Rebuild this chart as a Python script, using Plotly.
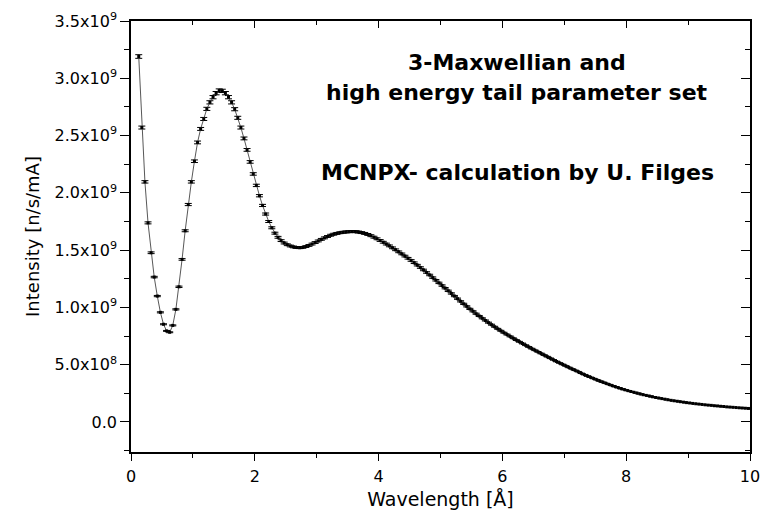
import numpy as np
import plotly.graph_objects as go

# Wavelength bin centres [Å]
wavelength = np.round(np.arange(0.125, 10.0, 0.05), 3)

# Intensity in units of 1e9 n/s/mA
intensity_e9 = [
    3.19, 2.57, 2.096, 1.738, 1.477, 1.265, 1.099, 0.957, 0.853, 0.795,
    0.783, 0.843, 0.983, 1.18, 1.419, 1.669, 1.898, 2.096, 2.276, 2.44,
    2.558, 2.645, 2.733, 2.79, 2.835, 2.87, 2.893, 2.89, 2.87, 2.835,
    2.79, 2.73, 2.655, 2.57, 2.475, 2.375, 2.27, 2.165, 2.065, 1.975,
    1.89, 1.815, 1.75, 1.695, 1.648, 1.612, 1.583, 1.562, 1.547, 1.536,
    1.528, 1.523, 1.521, 1.524, 1.531, 1.541, 1.553, 1.566, 1.580, 1.594,
    1.607, 1.619, 1.630, 1.639, 1.646, 1.652, 1.656, 1.659, 1.661, 1.662,
    1.661, 1.658, 1.653, 1.646, 1.637, 1.626, 1.613, 1.599,
    1.584, 1.569, 1.553, 1.537, 1.520, 1.503, 1.485, 1.467, 1.448, 1.429,
    1.410, 1.390, 1.369, 1.348, 1.327, 1.305, 1.283, 1.260, 1.237, 1.214,
    1.191, 1.168, 1.145, 1.122, 1.099, 1.076, 1.053, 1.031, 1.009, 0.987,
    0.966, 0.945, 0.925, 0.905, 0.886, 0.867, 0.849, 0.831, 0.813, 0.796,
    0.779, 0.763, 0.747, 0.731, 0.715, 0.700, 0.685, 0.670, 0.655, 0.640,
    0.626, 0.612, 0.598, 0.584, 0.570, 0.556, 0.542, 0.528, 0.515, 0.502,
    0.489, 0.476, 0.463, 0.451, 0.439, 0.425, 0.413, 0.401, 0.390, 0.379,
    0.368, 0.357, 0.347, 0.337, 0.327, 0.317, 0.308, 0.299, 0.290, 0.282,
    0.274, 0.266, 0.259, 0.252, 0.245, 0.238, 0.232, 0.226, 0.220, 0.214,
    0.209, 0.204, 0.199, 0.194, 0.189, 0.185, 0.181, 0.177, 0.173, 0.169,
    0.166, 0.162, 0.159, 0.156, 0.153, 0.150, 0.147, 0.145, 0.142, 0.140,
    0.137, 0.135, 0.132, 0.130, 0.128, 0.126, 0.124, 0.122, 0.120, 0.118,
]
intensity = np.array(intensity_e9) * 1e9
wavelength = wavelength[:len(intensity)]

# Axis tick labels
y_tick_values = [0.0, 0.5e9, 1.0e9, 1.5e9, 2.0e9, 2.5e9, 3.0e9, 3.5e9]
y_tick_labels = ["0.0", "5.0x10<sup>8</sup>", "1.0x10<sup>9</sup>", "1.5x10<sup>9</sup>",
                 "2.0x10<sup>9</sup>", "2.5x10<sup>9</sup>", "3.0x10<sup>9</sup>",
                 "3.5x10<sup>9</sup>"]
x_tick_values = [0, 2, 4, 6, 8, 10]

title_lines = ["3-Maxwellian and", "high energy tail parameter set",
               "MCNPX- calculation by U. Filges"]

X_RANGE = [0, 10]
Y_RANGE = [-0.262e9, 3.5e9]
FONT = "DejaVu Sans"

fig = go.Figure()
fig.add_trace(go.Scatter(
    x=wavelength, y=intensity, mode="lines+markers",
    line=dict(color="#444444", width=0.9),
    marker=dict(symbol="square", size=3, color="black"),
    error_y=dict(type="percent", value=0.5, color="black", thickness=1, width=3.5),
    showlegend=False, hoverinfo="x+y",
))
# empty trace to host the mirrored (top/right) axes
fig.add_trace(go.Scatter(x=[], y=[], xaxis="x2", yaxis="y2", showlegend=False))

axis_common = dict(showgrid=False, zeroline=False, linecolor="black", linewidth=1.6,
                   tickcolor="black", tickwidth=1.3, automargin=False,
                   tickfont=dict(family=FONT, size=16, color="black"))

fig.update_layout(
    width=762, height=520,
    margin=dict(l=131, r=12, t=21, b=68),
    paper_bgcolor="white", plot_bgcolor="white",
    font=dict(family=FONT, color="black"),
    xaxis=dict(range=X_RANGE, showline=True, ticks="outside", ticklen=7,
               tickvals=x_tick_values, ticktext=[str(v) for v in x_tick_values],
               ticklabelstandoff=2,
               minor=dict(ticks="outside", ticklen=4, dtick=1, tick0=0,
                          tickcolor="black", tickwidth=1.3),
               title=dict(text="Wavelength [Å]", font=dict(family=FONT, size=19),
                          standoff=8),
               **axis_common),
    yaxis=dict(range=Y_RANGE, showline=True, ticks="outside", ticklen=9,
               tickvals=y_tick_values, ticktext=y_tick_labels,
               minor=dict(ticks="outside", ticklen=5, dtick=0.25e9, tick0=0,
                          tickcolor="black", tickwidth=1.3),
               title=dict(text="Intensity [n/s/mA]", font=dict(family=FONT, size=18),
                          standoff=10),
               **axis_common),
    xaxis2=dict(range=X_RANGE, overlaying="x", side="top", anchor="y2",
                showline=True, ticks="inside", ticklen=7, dtick=2, tick0=0,
                showticklabels=False,
                minor=dict(ticks="inside", ticklen=4, dtick=1, tick0=0,
                           tickcolor="black", tickwidth=1.3),
                **axis_common),
    yaxis2=dict(range=Y_RANGE, overlaying="y", side="right", anchor="x2",
                showline=True, ticks="inside", ticklen=9, tickvals=y_tick_values,
                showticklabels=False,
                minor=dict(ticks="inside", ticklen=5, dtick=0.25e9, tick0=0,
                           tickcolor="black", tickwidth=1.3),
                **axis_common),
)

title_y = [0.904, 0.835, 0.648]
for text, yy in zip(title_lines, title_y):
    fig.add_annotation(text="<b>" + text + "</b>", xref="paper", yref="paper",
                       x=0.6236, y=yy, xanchor="center", yanchor="middle",
                       showarrow=False,
                       font=dict(family=FONT, size=22, color="black"))

fig.write_html("out.html")
